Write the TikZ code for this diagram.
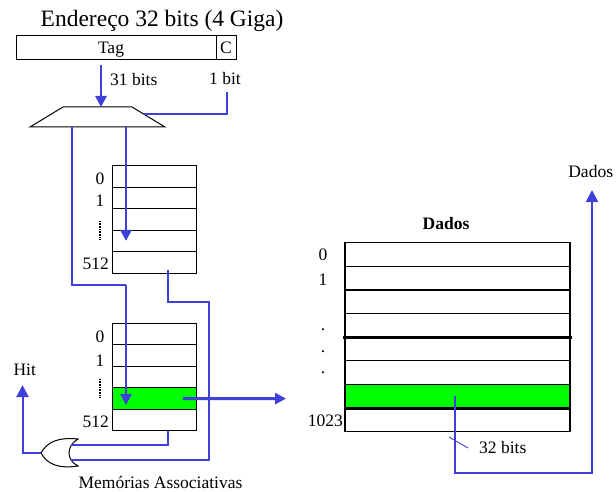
\documentclass[tikz,border=0pt]{standalone}
\usepackage{fontspec}
\setmainfont{Liberation Serif}
\usetikzlibrary{arrows.meta}
\definecolor{azul}{RGB}{64,64,216}
\definecolor{verde}{RGB}{0,255,0}
\tikzset{
	rotulo/.style={font=\fontsize{17.5}{20}\selectfont, inner sep=0pt},
	celula/.style={draw, line width=1pt, inner sep=0pt, outer sep=0pt, minimum width=84pt, minimum height=21.5pt},
	celdados/.style={draw, line width=1.2pt, inner sep=0pt, outer sep=0pt, minimum width=225pt, minimum height=23.625pt},
	fio/.style={azul, line width=1.7pt},
	setafina/.style={azul, line width=2pt, -{Triangle[length=12pt,width=12pt]}},
	setagrossa/.style={azul, line width=2.8pt, -{Triangle[length=11pt,width=11pt]}},
}
\begin{document}
\begin{tikzpicture}[x=1pt,y=-1pt]
			\useasboundingbox (0,0) rectangle (616,492);
			\node[anchor=base west, inner sep=0pt, font=\fontsize{23.5}{26}\selectfont] (titulo) at (40.5,27) {Endereço 32 bits (4 Giga)};
			\node[draw, line width=1pt, minimum width=200pt, minimum height=24pt, inner sep=0pt] (tag) at (116,48) {};
			\node[rotulo, anchor=base] (tagtxt) at (111,54) {Tag};
			\node[draw, line width=1pt, minimum width=20pt, minimum height=24pt, inner sep=0pt, font=\fontsize{17.5}{20}\selectfont] (c) at (226,48) {C};
			\node[rotulo, anchor=base west] (trintaum) at (110,86) {31 bits};
			\node[rotulo, anchor=base] (umbit) at (225,85) {1 bit};
			\coordinate (m1) at (30,127);
			\coordinate (m2) at (63,107);
			\coordinate (m3) at (132,107);
			\coordinate (m4) at (165,127);
			\draw[line width=1pt] (m1) -- (m2) -- (m3) -- (m4) -- cycle;
			\coordinate (muxn) at (101,107);
			\coordinate (muxe) at (144,114);
			\coordinate (muxs1) at (72,127);
			\coordinate (muxs2) at (126,127);
			\foreach \i/\cor in {0/white,1/white,2/white,3/white,4/white} {
					\node[celula, fill=\cor] (sup\i) at (154,166+21.4*\i+10.7) {};
				}
			\foreach \i/\cor in {0/white,1/white,2/white,3/verde,4/white} {
					\node[celula, fill=\cor] (inf\i) at (154,323+21.6*\i+10.8) {};
				}
			\foreach \i/\cor in {0/white,1/white,2/white,3/white,4/white,5/white,6/verde,7/white} {
					\node[celdados, fill=\cor] (dad\i) at (457.5,242.7+23.625*\i+11.8) {};
				}
			\draw[line width=3.2pt] ([xshift=-2pt]dad4.north west) -- ([xshift=2pt]dad4.north east);
			\draw[line width=3pt] (dad6.south west) -- (dad6.south east);
			\node[rotulo, anchor=base east] (s0) at (104.5,184) {0};
			\node[rotulo, anchor=base east] (s1) at (104.5,207) {1};
			\node[rotulo, anchor=base east] (s512) at (109,269) {512};
			\draw[line width=1.3pt, dash pattern=on 0.8pt off 0.8pt] (100,221) -- (100,240);
			\node[rotulo, anchor=base east] (i0) at (104.5,342) {0};
			\node[rotulo, anchor=base east] (i1) at (104.5,366) {1};
			\node[rotulo, anchor=base east] (i512) at (109,427) {512};
			\draw[line width=1.3pt, dash pattern=on 0.8pt off 0.8pt] (100,379) -- (100,397);
			\node[rotulo, anchor=base] (d0) at (323,260.7) {0};
			\node[rotulo, anchor=base] (d1) at (323,285) {1};
			\foreach \y in {330.5,352,373} {
					\node[rotulo, anchor=base] at (323,\y) {.};
				}
			\node[rotulo, anchor=base east] (d1023) at (343,426.7) {1023};
			\node[rotulo, anchor=base, font=\fontsize{17.5}{20}\selectfont\bfseries] (dadostit) at (446,229) {Dados};
			\node[rotulo, anchor=base] (dadostxt) at (590.7,178) {Dados};
			\node[rotulo, anchor=base west] (trintadois) at (479,453) {32 bits};
			\node[rotulo, anchor=base west] (hittxt) at (13.3,375) {Hit};
			\node[rotulo, anchor=base] (memtxt) at (160.5,488) {Memórias Associativas};
			\coordinate (ous) at (41,453);
			\coordinate (ouin1) at (71,445);
			\coordinate (ouin2) at (71,460);
			\draw[line width=1pt] (ous) .. controls (47,442) and (58,437) .. (78,439) .. controls (66,446) and (66,460) .. (78,466) .. controls (58,469) and (47,464) .. (ous) -- cycle;
			\coordinate (dobra) at (126,285);
			\coordinate (volta) at (209,302);
			\coordinate (hit) at (22.5,385);
			\coordinate (saida) at (286,398.6);
			\coordinate (canto) at (592,473);
			\coordinate (dadosout) at (592,190);
			\draw[setagrossa] ([xshift=-15pt,yshift=-5pt]tag.south) -- (muxn);
			\draw[fio] ([xshift=2pt,yshift=-7pt]umbit.south) |- (muxe);
			\draw[setagrossa] (muxs2) -- (muxs2 |- sup3.center);
			\draw[fio] (muxs1) |- (dobra);
			\draw[setagrossa] (dobra) -- ++(0,120);
			\draw[fio] ([xshift=14pt,yshift=-8pt]sup4.center) |- (volta) |- (ouin2);
			\draw[fio] ([xshift=14pt]inf4.south) |- (ouin1);
			\draw[setafina] (ous) -| (hit);
			\draw[setagrossa] ([xshift=29pt]inf3.center) -- (saida);
			\draw[setafina] ([xshift=-2.5pt]dad6.center) |- (canto) -- (dadosout);
			\draw[azul, line width=0.9pt] (449,437) -- (468,448);
		\end{tikzpicture}
\end{document}
